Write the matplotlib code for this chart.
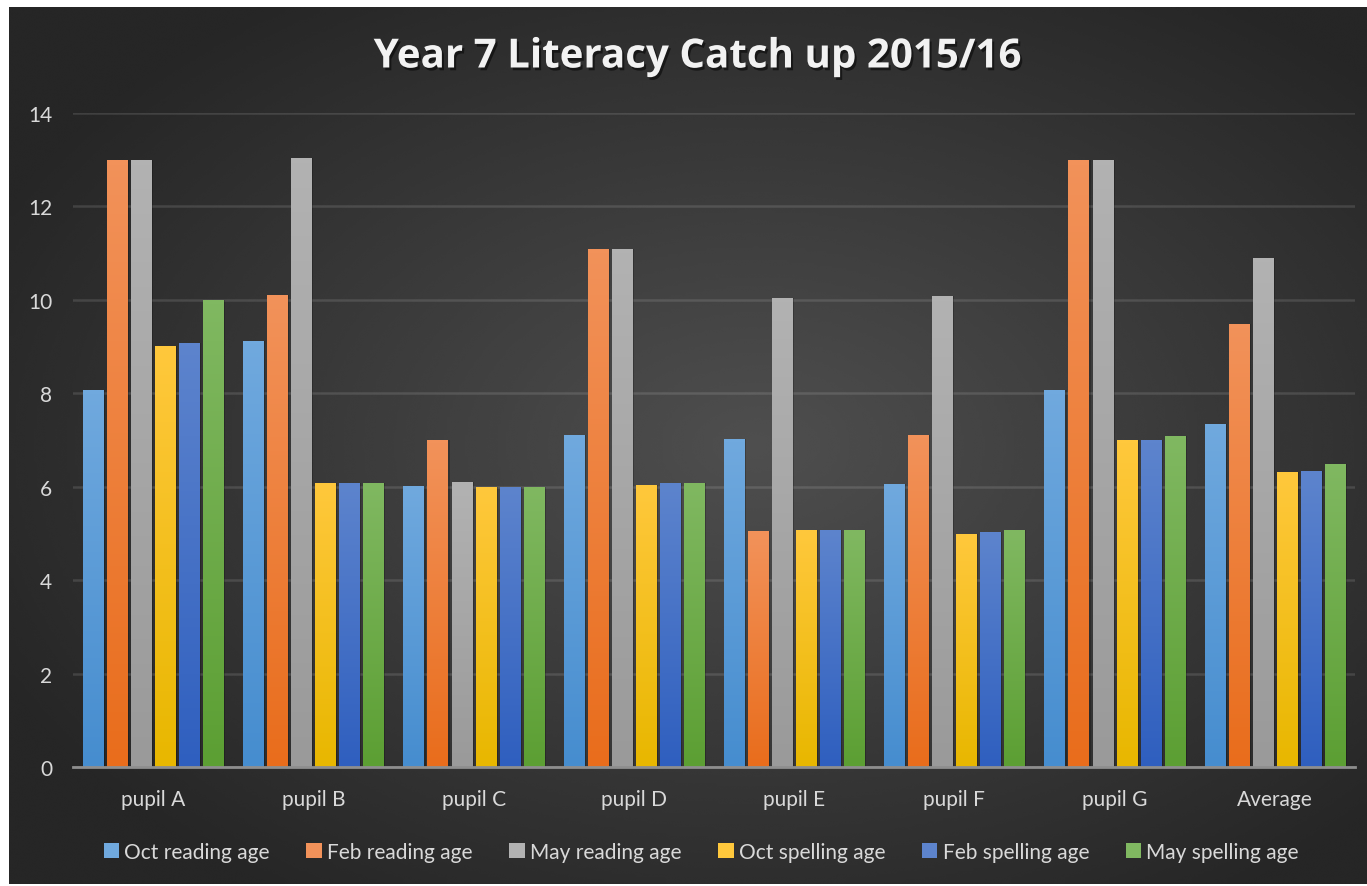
import numpy as np
import matplotlib.pyplot as plt
import matplotlib.patheffects as pe
from matplotlib.patches import Patch
from matplotlib.colors import LinearSegmentedColormap

plt.rcParams['font.family'] = ['Lato', 'DejaVu Sans']

categories = ['pupil A', 'pupil B', 'pupil C', 'pupil D', 'pupil E', 'pupil F', 'pupil G', 'Average']
series_names = ['Oct reading age', 'Feb reading age', 'May reading age',
                'Oct spelling age', 'Feb spelling age', 'May spelling age']

oct_reading = [8.07, 9.12, 6.02, 7.1, 7.02, 6.06, 8.07, 7.35]
feb_reading = [13.0, 10.1, 7.0, 11.09, 5.05, 7.1, 13.0, 9.48]
may_reading = [13.0, 13.04, 6.1, 11.09, 10.04, 10.08, 13.0, 10.9]
oct_spelling = [9.01, 6.08, 6.0, 6.04, 5.08, 4.99, 7.0, 6.32]
feb_spelling = [9.08, 6.08, 6.0, 6.08, 5.08, 5.03, 7.0, 6.34]
may_spelling = [10.0, 6.08, 6.0, 6.08, 5.08, 5.08, 7.08, 6.49]

values = [oct_reading, feb_reading, may_reading, oct_spelling, feb_spelling, may_spelling]

# (top colour, bottom colour) for each series
colours = [('#70A9DE', '#468DCF'),
           ('#F2925A', '#E96D1C'),
           ('#B2B2B2', '#9A9A9A'),
           ('#FFC83C', '#E8B700'),
           ('#5D84CD', '#2F5FBF'),
           ('#80B861', '#5C9F33')]

W, H = 1367, 887
fig = plt.figure(figsize=(W / 100, H / 100), dpi=100, facecolor='white')

# dark radial background
bg = fig.add_axes([9 / W, 2 / H, (W - 9) / W, (H - 10) / H])
bg.set_axis_off()
yy, xx = np.mgrid[0:1:300j, 0:1:460j]
r = np.sqrt(((xx - 0.55) / 0.62) ** 2 + ((yy - 0.5) / 0.62) ** 2)
shade = np.clip(0.31 - 0.16 * r, 0.15, 0.31)
bg.imshow(shade, cmap='gray', vmin=0, vmax=1, aspect='auto', extent=[0, 1, 0, 1],
          interpolation='bicubic')
bg.set_xlim(0, 1)
bg.set_ylim(0, 1)

ax = fig.add_axes([73 / W, 1 - 768 / H, (1355 - 73) / W, (768 - 114) / H])
ax.patch.set_alpha(0)

x = np.arange(len(categories))
pitch = 0.15
width = 0.126
for i, (vals, (top, bot)) in enumerate(zip(values, colours)):
    pos = x + (i - 2.5) * pitch
    # soft shadow
    ax.bar(pos + 0.012, vals, width, color='black', alpha=0.22, zorder=2, linewidth=0)
    bars = ax.bar(pos, vals, width, color=bot, zorder=3, linewidth=0)
    cmap = LinearSegmentedColormap.from_list(f's{i}', [bot, top])
    grad = np.linspace(0, 1, 100).reshape(-1, 1)
    for b in bars:
        x0, h = b.get_x(), b.get_height()
        im = ax.imshow(grad, cmap=cmap, aspect='auto', origin='lower',
                       extent=[x0, x0 + b.get_width(), 0, h], zorder=4)
        im.set_clip_path(b)

ax.set_xlim(-0.5, len(categories) - 0.5)
ax.set_ylim(0, 14)

ax.set_yticks(np.arange(0, 15, 2))
ax.yaxis.grid(True, color='white', alpha=0.12, linewidth=1.8)
ax.set_axisbelow(True)
ax.set_xticks(x)
ax.set_xticklabels(categories)
ax.tick_params(axis='both', length=0, labelsize=15, labelcolor='#D9D9D9')
ax.tick_params(axis='y', pad=15)
ax.tick_params(axis='x', pad=16)
for s in ['top', 'right', 'left']:
    ax.spines[s].set_visible(False)
ax.spines['bottom'].set_color('#8E8E8E')
ax.spines['bottom'].set_linewidth(2)
ax.spines['bottom'].set_zorder(5)

fig.text(0.51, 1 - 58 / H, 'Year 7 Literacy Catch up 2015/16', ha='center', va='center',
         fontsize=29, fontweight='bold', color='#F2F2F2', family=['Open Sans', 'DejaVu Sans'],
         path_effects=[pe.withSimplePatchShadow(offset=(1.5, -2), shadow_rgbFace='black', alpha=0.5)])

handles = [Patch(facecolor=c[0], edgecolor='none') for c in colours]
fig.legend(handles, series_names, loc='center', bbox_to_anchor=(0.513, 1 - 853 / H), ncol=6,
           frameon=False, fontsize=15, labelcolor='#D9D9D9', handlelength=0.75,
           handleheight=0.75, handletextpad=0.25, columnspacing=1.75)

fig.savefig('out.png', dpi=100, facecolor='white')
